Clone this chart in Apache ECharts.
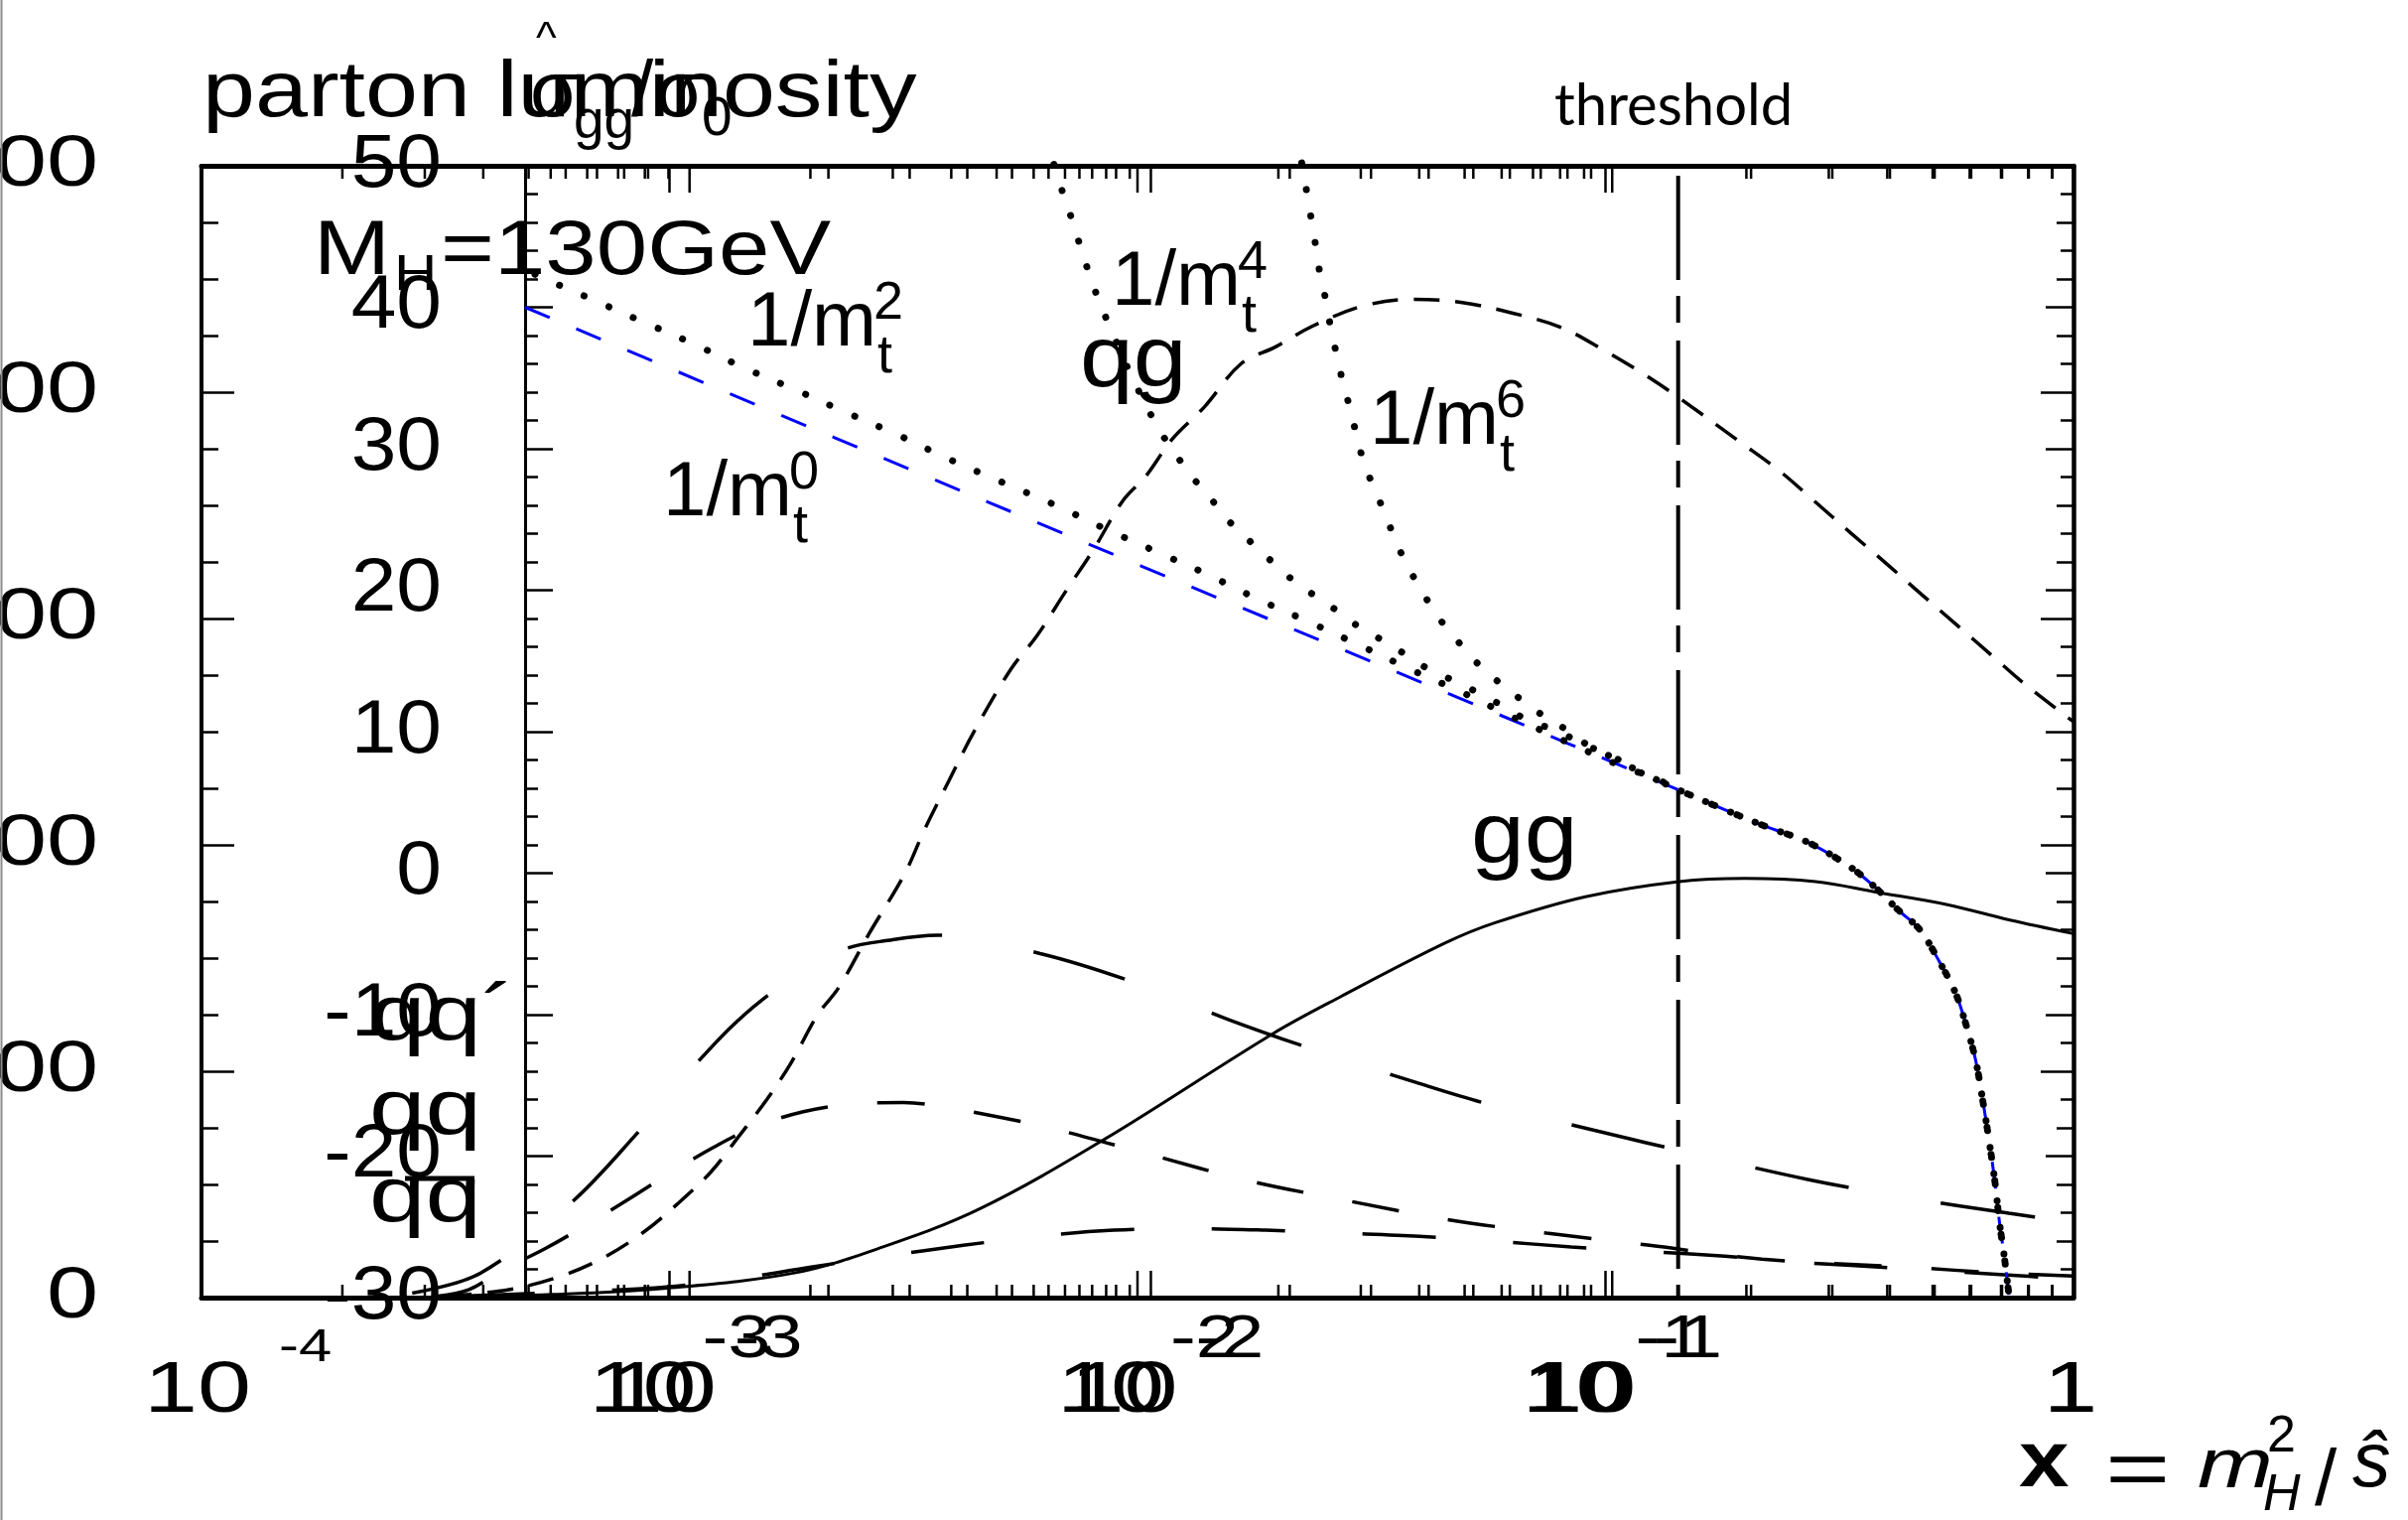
<!DOCTYPE html>
<html>
<head>
<meta charset="utf-8">
<title>parton luminosity</title>
<script src="https://cdn.jsdelivr.net/npm/echarts@6.0.0/dist/echarts.min.js"></script>
<style>
  html, body { margin: 0; padding: 0; background: #fff; }
  #chart { width: 2426px; height: 1531px; }
</style>
</head>
<body>
<div id="chart"></div>
<script>
// ---------- parton luminosities versus x (outer frame: x 1e-4 .. 1, y 0 .. 500) ----------
const ggX = [3.08e-4, 5.64e-4, 9.73e-4, 1.85e-3, 2.86e-3, 4.61e-3, 8.49e-3, 0.0195, 0.0272, 0.0455, 0.0579, 0.0906, 0.1436, 0.1986, 0.2812, 0.3802, 0.5346, 0.7278, 1];
const ggY = [0, 1.4, 4.1, 10.9, 22.4, 39.3, 69.9, 116.7, 133.0, 156.7, 165.5, 177.1, 183.8, 185.2, 183.8, 179.1, 173.7, 166.9, 160.8];

const qgX = [3.33e-4, 4.50e-4, 5.73e-4, 7.13e-4, 8.75e-4, 1.040e-3, 1.227e-3, 1.406e-3, 1.614e-3, 1.82e-3, 2.07e-3, 2.30e-3, 2.67e-3, 3.18e-3, 3.51e-3, 3.96e-3, 4.48e-3, 5.36e-3, 6.10e-3, 7.03e-3, 8.05e-3, 9.31e-3, 0.01042, 0.01186, 0.0139, 0.01663, 0.01968, 0.02377, 0.03048, 0.03882, 0.04943, 0.06339, 0.08017, 0.09908, 0.1213, 0.1436, 0.1941, 0.2360, 0.2786, 0.3342, 0.3981, 0.4732, 0.5636, 0.6699, 0.7980, 1];
const qgY = [0.7, 3.4, 8.8, 17.0, 28.5, 41.4, 55.6, 71.2, 87.5, 103.8, 124.8, 137.0, 160.8, 187.2, 206.9, 228.6, 250.3, 277.5, 292.4, 312.1, 330.4, 352.1, 362.9, 379.2, 393.5, 412.5, 419.9, 429.4, 438.2, 441.0, 439.6, 434.9, 428.7, 418.6, 407.7, 397.5, 377.9, 365.0, 352.1, 337.8, 324.3, 310.7, 297.1, 283.6, 270.0, 254.4];

const qqPrimeX = [2.82e-4, 3.95e-4, 6.18e-4, 8.41e-4, 1.122e-3, 1.563e-3, 2.333e-3, 3.00e-3, 3.733e-3, 6.194e-3, 9.886e-3, 0.01567, 0.02466, 0.03945, 0.05623, 0.1038, 0.1436, 0.2704, 0.4426, 0.7278, 1];
const qqPrimeY = [2.0, 10.9, 42.1, 71.2, 101.8, 130.9, 153.3, 158.1, 160.1, 152.0, 139.1, 122.8, 108.5, 95.0, 85.5, 71.9, 65.1, 52.2, 44.1, 37.3, 33.2];

const qqX = [3.20e-4, 3.72e-4, 4.40e-4, 5.43e-4, 6.71e-4, 8.17e-4, 1.002e-3, 1.227e-3, 1.517e-3, 1.932e-3, 2.46e-3, 3.162e-3, 4.055e-3, 5.164e-3, 6.622e-3, 0.01067, 0.0173, 0.02825, 0.0455, 0.07482, 0.1242, 0.2158, 0.4285, 0.6966, 1];
const qqY = [0.7, 3.4, 12.2, 21.7, 32.6, 43.4, 55.0, 65.8, 75.3, 82.1, 85.5, 86.2, 83.4, 79.4, 74.6, 63.1, 51.6, 42.7, 34.6, 28.5, 23.1, 17.0, 13.6, 10.9, 9.5];

const qqbarX = [3.59e-4, 6.56e-4, 9.86e-4, 1.377e-3, 2.023e-3, 2.884e-3, 4.246e-3, 6.138e-3, 8.892e-3, 0.01288, 0.01879, 0.02723, 0.04, 0.05662, 0.08453, 0.1233, 0.1799, 0.2606, 0.4285, 0.6966, 1];
const qqbarY = [0.7, 2.7, 4.7, 8.1, 13.6, 18.3, 23.1, 27.1, 29.8, 30.5, 29.8, 28.5, 27.1, 25.1, 22.4, 20.4, 18.3, 15.6, 12.9, 10.2, 8.1];

// ---------- sigma_gg / sigma_0 (inner frame: x 4.4e-4 .. 1, y -30 .. 50) ----------
// common branch above threshold, shared by all 1/m_t^n expansions
const aboveThrX = [0.139, 0.175, 0.2154, 0.2649, 0.326, 0.3687, 0.4169, 0.4645, 0.5129, 0.5538, 0.5798, 0.6124, 0.636, 0.6561, 0.6761, 0.6918, 0.7079, 0.7244];
const aboveThrY = [5.9, 4.5, 3.3, 2.2, 0.5, -0.9, -2.6, -4.0, -6.3, -8.4, -10.3, -13.1, -16.1, -18.9, -21.9, -24.8, -27.1, -29.8];

const m0X = [4.4e-4, 2.056e-3, 9.55e-3, 0.04645];
const m0Y = [40.0, 30.8, 21.7, 12.4];

const m2X = [4.10e-4, 4.645e-4, 6.012e-4, 7.762e-4, 1.007e-3, 1.297e-3, 1.687e-3, 2.173e-3, 2.818e-3, 3.631e-3, 4.71e-3, 6.124e-3, 7.889e-3, 0.01016, 0.01309, 0.01698, 0.02188, 0.02838, 0.03656, 0.0471, 0.06026, 0.07816, 0.1007, 0.1279];
const m2Y = [43.2, 42.3, 40.7, 39.1, 37.5, 35.8, 34.2, 32.6, 31.0, 29.3, 27.7, 26.1, 24.4, 22.8, 21.2, 19.4, 17.8, 16.1, 14.4, 12.8, 11.1, 9.4, 7.8, 6.5];

const m4X = [6.166e-3, 6.457e-3, 6.761e-3, 7.031e-3, 7.362e-3, 7.709e-3, 8.128e-3, 9.12e-3, 0.0104, 0.01122, 0.01222, 0.0134, 0.01455, 0.01611, 0.01791, 0.01982, 0.02223, 0.02495, 0.02799, 0.03162, 0.03548, 0.04009, 0.04539, 0.05164, 0.05888, 0.06653, 0.07586, 0.0865, 0.0984, 0.1122, 0.1268];
const m4Y = [50.1, 48.0, 46.1, 44.3, 42.3, 40.5, 38.7, 35.0, 31.4, 29.8, 28.1, 26.6, 25.1, 23.7, 22.3, 21.0, 19.8, 18.7, 17.5, 16.5, 15.5, 14.4, 13.6, 12.7, 11.7, 10.7, 10.1, 9.1, 8.4, 7.3, 6.5];

const m6X = [0.02123, 0.02173, 0.02223, 0.02275, 0.02328, 0.02399, 0.02455, 0.02529, 0.02612, 0.0271, 0.02799, 0.02904, 0.03069, 0.03236, 0.03412, 0.03631, 0.0389, 0.04198, 0.04571, 0.05012, 0.05534, 0.06209, 0.06966, 0.07816, 0.0871, 0.0984, 0.1114, 0.1268];
const m6Y = [50.2, 48.3, 46.4, 44.4, 42.3, 40.4, 38.5, 36.6, 34.6, 32.7, 30.8, 28.9, 27.0, 25.2, 23.3, 21.5, 19.8, 18.1, 16.6, 15.1, 13.8, 12.5, 11.3, 10.3, 9.2, 8.3, 7.4, 6.5];

// threshold  x = m_H^2 / (4 m_t^2)
const thresholdX = [0.139, 0.139];
const thresholdY = [49.3, -30];

// ---------- tick labels ----------
const outerXTicks = [1e-4, 1e-3, 1e-2, 1e-1, 1];
const outerXBase  = ['10', '10', '10', '10', '1'];
const outerXExp   = ['-4', '-3', '-2', '-1', ''];
const innerXTicks = [1e-3, 1e-2, 1e-1, 1];
const innerXBase  = ['10', '10', '10', '1'];
const innerXExp   = ['-3', '-2', '-1', ''];
const outerYTicks = [0, 100, 200, 300, 400, 500];
const outerYText  = ['0', '100', '200', '300', '400', '500'];
const innerYTicks = [-30, -20, -10, 0, 10, 20, 30, 40, 50];
const innerYText  = ['-30', '-20', '-10', '0', '10', '20', '30', '40', '50'];

const FONT = '"Liberation Sans", Arial, Helvetica, sans-serif';
const zip = (xs, ys) => xs.map((x, i) => [x, ys[i]]);

// log-axis tick positions (decades long, 2..9 short)
function logTickList(lo, hi) {
  const out = [];
  for (let e = -4; e <= 0; e++) {
    for (let m = 1; m <= 9; m++) {
      const v = m * Math.pow(10, e);
      if (v >= lo * 0.9999 && v <= hi * 1.0001) out.push([v, m === 1 ? 1 : 0]);
    }
  }
  return out;
}

function tickSeries(xi, yi, lo, hi, majLen, minLen) {
  return {
    type: 'custom', xAxisIndex: xi, yAxisIndex: yi, silent: true, z: 3, clip: false,
    data: logTickList(lo, hi),
    renderItem: function (params, api) {
      const x = api.coord([api.value(0), 0])[0];
      const cs = params.coordSys;
      const len = api.value(1) ? majLen : minLen;
      const st = { stroke: '#000', lineWidth: 2.5 };
      return { type: 'group', children: [
        { type: 'line', shape: { x1: x, y1: cs.y + cs.height, x2: x, y2: cs.y + cs.height - len }, style: st },
        { type: 'line', shape: { x1: x, y1: cs.y, x2: x, y2: cs.y + len }, style: st }
      ] };
    }
  };
}

function xAx(grid, pos, min, max, lineW) {
  return {
    type: 'log', logBase: 10, gridIndex: grid, position: pos, min: min, max: max,
    axisLine: { show: lineW > 0, onZero: false, lineStyle: { color: '#000', width: lineW } },
    axisTick: { show: false }, axisLabel: { show: false }, splitLine: { show: false }
  };
}
function yAx(grid, pos, min, max, interval, majLen, minLen, split, lineW) {
  return {
    type: 'value', gridIndex: grid, position: pos, min: min, max: max, interval: interval,
    axisLine: { show: lineW > 0, onZero: false, lineStyle: { color: '#000', width: lineW } },
    axisTick: { show: true, inside: true, length: majLen, lineStyle: { color: '#000', width: 2.5 } },
    minorTick: { show: true, splitNumber: split, length: minLen, lineStyle: { color: '#000', width: 2.5 } },
    axisLabel: { show: false }, splitLine: { show: false }
  };
}

function lineSeries(name, xi, yi, xs, ys, style, extra) {
  return Object.assign({
    name: name, type: 'line', xAxisIndex: xi, yAxisIndex: yi, data: zip(xs, ys),
    showSymbol: false, symbol: 'none', smooth: 0.35, z: 5,
    lineStyle: style
  }, extra || {});
}

const dotted = { color: '#000', width: 7, type: [0.1, 27], cap: 'round' };

const chart = echarts.init(document.getElementById('chart'), null, { renderer: 'canvas', width: 2426, height: 1531 });

const option = {
  animation: false,
  backgroundColor: '#fff',
  grid: [
    { left: 203, top: 167, width: 1886, height: 1140, containLabel: false, outerBoundsMode: 'none' },
    { left: 529, top: 167, width: 1560, height: 1140, containLabel: false, outerBoundsMode: 'none' }
  ],
  xAxis: [
    xAx(0, 'bottom', 1e-4, 1, 5),
    xAx(0, 'top', 1e-4, 1, 5),
    xAx(1, 'bottom', 4.4e-4, 1, 0)
  ],
  yAxis: [
    yAx(0, 'left', 0, 500, 100, 33, 17, 4, 4),
    yAx(0, 'right', 0, 500, 100, 33, 17, 4, 4.5),
    yAx(1, 'left', -30, 50, 10, 28, 13, 5, 3),
    yAx(1, 'right', -30, 50, 10, 28, 13, 5, 0)
  ],
  series: [
    tickSeries(0, 0, 1e-4, 1, 27, 13),
    tickSeries(2, 2, 4.4e-4, 1, 27, 13),
    // luminosities
    lineSeries('gg', 0, 0, ggX, ggY, { color: '#000', width: 3 }),
    lineSeries('qg', 0, 0, qgX, qgY, { color: '#000', width: 3.5, type: [26, 16] }),
    lineSeries('qq\u2032', 0, 0, qqPrimeX, qqPrimeY, { color: '#000', width: 3.5, type: [96, 94] }),
    lineSeries('qq', 0, 0, qqX, qqY, { color: '#000', width: 3.5, type: [48, 50] }),
    lineSeries('q\u0304q', 0, 0, qqbarX, qqbarY, { color: '#000', width: 3.5, type: [74, 78] }),
    // partonic cross section ratios
    lineSeries('1/mt^0', 2, 2, m0X.concat(aboveThrX), m0Y.concat(aboveThrY), { color: '#0000ff', width: 3, type: [27, 29] }),
    lineSeries('1/mt^2', 2, 2, m2X.concat(aboveThrX), m2Y.concat(aboveThrY), dotted, { clip: false }),
    lineSeries('1/mt^4', 2, 2, m4X.concat(aboveThrX), m4Y.concat(aboveThrY), dotted, { clip: false }),
    lineSeries('1/mt^6', 2, 2, m6X.concat(aboveThrX), m6Y.concat(aboveThrY), dotted, { clip: false }),
    lineSeries('threshold', 2, 2, thresholdX, thresholdY, { color: '#000', width: 4, type: [105, 16, 27, 18] }, { smooth: false })
  ]
};
chart.setOption(option);

// ---------- text layer ----------
const gx = (i, v) => chart.convertToPixel({ xAxisIndex: i }, v);
const gy = (i, v) => chart.convertToPixel({ yAxisIndex: i }, v);

function T(x, y, text, size, o) {
  o = o || {};
  return {
    type: 'text', x: x, y: y, scaleX: o.sx || 1, z: 50, silent: true,
    style: {
      text: text, fontSize: size, fontFamily: o.ff || FONT,
      fontWeight: o.fw || 'normal', fontStyle: o.fs || 'normal',
      fill: o.c || '#000', align: o.al || 'left', verticalAlign: 'middle'
    }
  };
}
// place by alphabetic baseline (middle sits ~0.35 em above it)
function TB(x, base, text, size, o) {
  return T(x, base - 0.35 * size, text, size, o);
}

const els = [];

// x tick labels (both frames share the bottom edge)
const baseDx = { outer: [-4, -27, -27, -30, -3], inner: [-27, -27, -30, -3] };
outerXTicks.forEach((v, i) => {
  const cx = gx(0, v) + baseDx.outer[i];
  els.push(T(cx, 1402, outerXBase[i], 72, { al: 'center', sx: 1.35 }));
  if (outerXExp[i]) {
    if (i === 0) els.push(T(cx + 82, 1358, outerXExp[i], 46, { sx: 1.3 }));
    else els.push(T(cx + 60, 1350, outerXExp[i], 62, { sx: 1.25 }));
  }
});
innerXTicks.forEach((v, i) => {
  const cx = gx(2, v) + baseDx.inner[i];
  els.push(T(cx, 1402, innerXBase[i], 72, { al: 'center', sx: 1.35 }));
  if (innerXExp[i]) els.push(T(cx + 72, 1350, innerXExp[i], 62, { sx: 1.25 }));
});

// y tick labels
outerYTicks.forEach((v, i) => els.push(T(99, gy(0, v), outerYText[i], 72, { al: 'right', sx: 1.3 })));
innerYTicks.forEach((v, i) => els.push(T(445, gy(2, v), innerYText[i], 76, { al: 'right', sx: 1.08 })));

// titles
els.push(TB(204, 123, 'parton luminosity', 80, { sx: 1.19 }));
els.push(TB(540, 56, '^', 44));
els.push(TB(534, 123, '\u03c3', 80));
els.push(TB(578, 143, 'gg', 55));
els.push(TB(636, 123, '/', 80));
els.push(TB(660, 123, '\u03c3', 80));
els.push(TB(707, 140, '0', 55));

els.push(TB(316, 282, 'M', 77, { sx: 1.2 }));
els.push(TB(397, 296, 'H', 50, { sx: 1.2 }));
els.push(TB(444, 282, '=130GeV', 77, { sx: 1.2 }));

// curve labels 1/m_t^n
function mLabel(x, base, n) {
  els.push(TB(x, base, '1/m', 78));
  els.push(TB(x + 127, base - 29, n, 54));
  els.push(TB(x + 131, base + 25, 't', 54));
}
mLabel(753, 354, '2');
mLabel(668, 525, '0');
mLabel(1120, 313, '4');
mLabel(1380, 453, '6');

els.push(TB(1088, 396, 'qg', 88, { sx: 1.1 }));
els.push(TB(1482, 876, 'gg', 88, { sx: 1.1 }));
els.push(TB(1566, 128, 'threshold', 58, { ff: 'Lato, "Open Sans", sans-serif' }));

els.push(TB(372, 1053, 'qq\u00b4', 80, { sx: 1.27 }));
els.push(TB(372, 1148, 'qq', 80, { sx: 1.27 }));
els.push(TB(372, 1236, 'qq', 80, { sx: 1.27 }));
els.push({ type: 'line', z: 50, silent: true, shape: { x1: 408, y1: 1187, x2: 478, y2: 1187 }, style: { stroke: '#000', lineWidth: 5 } });

// axis title  x = m_H^2 / s-hat
els.push(TB(2034, 1503, 'x', 79, { fw: 'bold', sx: 1.15 }));
els.push(T(2121, 1484, '=', 80, { sx: 1.4 }));
els.push(TB(2214, 1503, 'm', 70, { fs: 'italic', sx: 1.3 }));
els.push(TB(2284, 1466, '2', 52));
els.push(TB(2280, 1525, 'H', 52, { fs: 'italic' }));
els.push(TB(2332, 1522, '/', 80));
els.push(TB(2370, 1503, '\u015d', 77, { fs: 'italic' }));

// thin border at the left edge
els.push({ type: 'line', z: 50, silent: true, shape: { x1: 1.5, y1: 0, x2: 1.5, y2: 1531 }, style: { stroke: '#8c8c8c', lineWidth: 2 } });

chart.setOption({ graphic: { elements: els } });
</script>
</body>
</html>
